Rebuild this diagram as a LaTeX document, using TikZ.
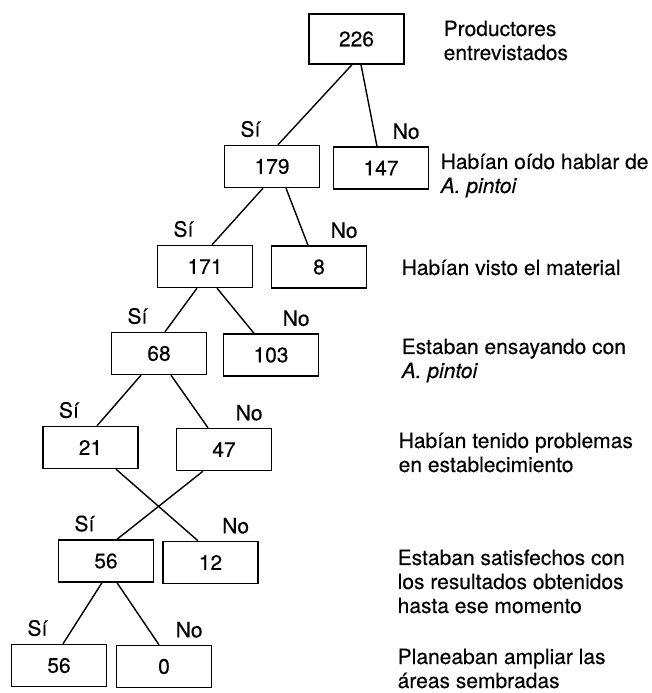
\documentclass[tikz,border=0pt]{standalone}
\usepackage{fontspec}
\setmainfont{TeX Gyre Heros}[FakeBold=0.3, ItalicFeatures={FakeBold=0.3}]
\usetikzlibrary{positioning}
\tikzset{
	decision tree/.style={
		x=1pt, y=1pt,
		line width=1.4pt,
		font=\fontsize{21}{24}\selectfont,
		cell/.style={draw, minimum width=95pt, minimum height=42pt, inner sep=0pt},
		answer/.style={inner sep=0pt},
		si/.style={answer, above right=7pt and 16pt of ##1.north west},
		no/.style={answer, above right=6.5pt and 11pt of ##1.north},
		question/.style={align=left, anchor=base west, inner sep=0pt} % base = last line
		}
}

\begin{document}
\begin{tikzpicture}[decision tree]
      \useasboundingbox (0,0) rectangle (652,693);
      % counts
      \node[cell, minimum height=50pt] (n226) at (356.5,654) {226};
      \node[cell] (n179) at (272,526.5) {179};
      \node[cell] (n147) at (381,525) {147};
      \node[cell] (n171) at (205,426.5) {171};
      \node[cell] (n8) at (319,426) {8};
      \node[cell] (n68) at (159,339.5) {68};
      \node[cell] (n103) at (271,338) {103};
      \node[cell] (n21) at (90.5,245.5) {21};
      \node[cell] (n47) at (224,243.5) {47};
      \node[cell] (n56) at (106,132) {56};
      \node[cell] (n12) at (210.5,130.5) {12};
      \node[cell] (n56b) at (59,27.5) {56};
      \node[cell] (n0) at (164,26.5) {0};
      % branches
      \foreach \a/\da/\b/\db in {n226/-4.5/n179/6, n226/4.5/n147/-4,
            n179/-9/n171/7, n179/14/n8/-11, n171/-8/n68/6, n171/12/n103/-17,
            n68/-18/n21/6.5, n68/12/n47/-16, n21/25.5/n12/-12.5, n47/-21/n56/11,
            n56/-4/n56b/4, n56/11/n0/-5}
          \draw ([xshift=\da pt]\a.south) -- ([xshift=\db pt]\b.north);
      \node[si=n179] (si179) {Sí};
      \node[no=n147] (no147) {No};
      \node[si=n171] (si171) {Sí};
      \node[no=n8] (no8) {No};
      \node[si=n68] (si68) {Sí};
      \node[no=n103] (no103) {No};
      \node[si=n21] (si21) {Sí};
      \node[no=n47] (no47) {No};
      \node[si=n56] (si56) {Sí};
      \node[no=n12] (no12) {No};
      \node[si=n56b] (si56b) {Sí};
      \node[no=n0] (no0) {No};
      % questions
      \node[question] (q1) at (443,633) {Productores\\entrevistados};
      \node[question] (q2) at (440,500) {Habían oído hablar de\\\textit{A. pintoi}};
      \node[question] (q3) at (401,418) {Habían visto el material};
      \node[question] (q4) at (401,315) {Estaban ensayando con\\\textit{A. pintoi}};
      \node[question] (q5) at (398,221) {Habían tenido problemas\\en establecimiento};
      \node[question] (q6) at (397,80) {Estaban satisfechos con\\los resultados obtenidos\\hasta ese momento};
      \node[question] (q7) at (397,5) {Planeaban ampliar las\\áreas sembradas};
\end{tikzpicture}
\end{document}
